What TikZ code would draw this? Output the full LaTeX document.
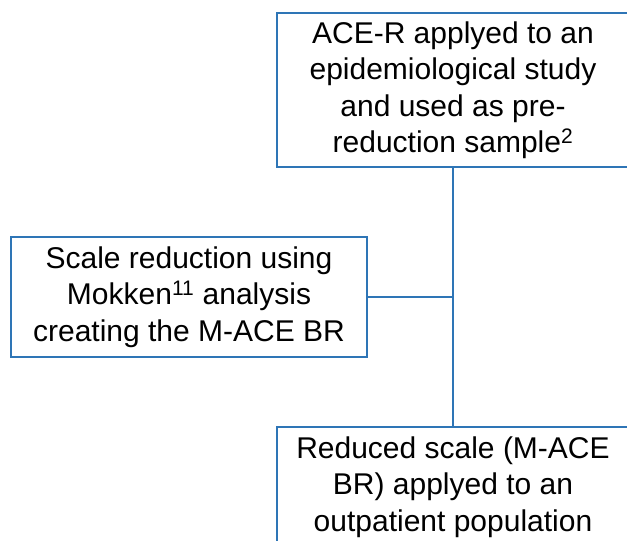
\documentclass[tikz,border=0pt]{standalone}
\usepackage{fontspec}
\setmainfont{Liberation Sans}
\definecolor{boxblue}{RGB}{46,117,182}

\begin{document}
\begin{tikzpicture}[x=1pt,y=1pt,
      stagebox/.style={draw=boxblue,line width=2.5pt,align=center,inner sep=0pt,
         font=\fontsize{30}{36.5}\selectfont,execute at begin node={\rule{0pt}{31pt}}}]
         \useasboundingbox (0,0) rectangle (627,-541);
         \node[stagebox,minimum width=352,minimum height=154] (sample) at (453,-90)
            {ACE-R applyed to an\\epidemiological study\\and used as pre-\\reduction sample\textsuperscript{2}};
         \node[stagebox,minimum width=356,minimum height=120] (mokken) at (189,-297)
            {Scale reduction using\\Mokken\textsuperscript{11} analysis\\creating the M-ACE BR};
         \node[stagebox,minimum width=352,minimum height=120] (reduced) at (453,-487)
            {Reduced scale (M-ACE\\BR) applyed to an\\outpatient population};
         \draw[boxblue,line width=2.5pt] (sample.south) -- (reduced.north);
         \draw[boxblue,line width=2.5pt] (mokken.east) -- (sample.south |- mokken.east);
      \end{tikzpicture}
\end{document}
